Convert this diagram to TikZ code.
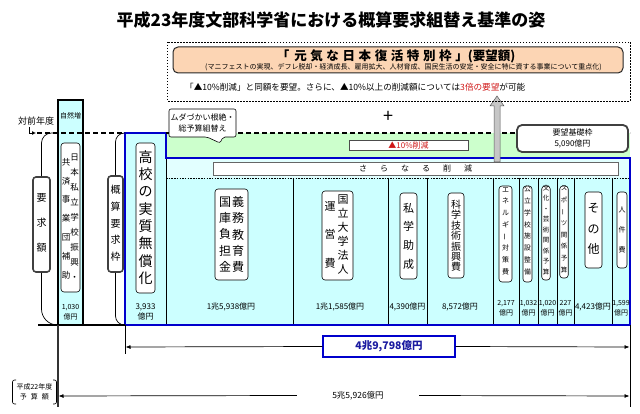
\documentclass[tikz,border=0pt]{standalone}
\usepackage{fontspec}
\setmainfont{Noto Sans CJK JP}
\usepackage{graphicx}
\usetikzlibrary{arrows.meta}
\definecolor{cyanf}{HTML}{CCFFFF}
\definecolor{cyanl}{HTML}{E2FFFF}
\definecolor{greenf}{HTML}{CCFFCC}
\definecolor{peach}{HTML}{FCD5B4}
\definecolor{bl}{HTML}{0000CC}
\definecolor{rd}{HTML}{D01818}
\definecolor{navy}{HTML}{1A1AA0}
\newcommand\fsz[2]{\fontsize{#1}{#2}\selectfont}
\newcommand\vb{\rotatebox[origin=c]{90}{ー}}
\newcommand\gsp{\hspace{3.6pt}}
\newcommand\ssp{\hspace{13pt}}
\begin{document}
\begin{tikzpicture}[x=1pt,y=-1pt,
  rbox/.style={draw=black, fill=white, rounded corners=3pt, line width=0.6pt, inner sep=0pt},
  dbox/.style={draw=black!75, fill=white, rounded corners=3pt, line width=1.6pt, inner sep=0pt},
  vt/.style={align=center, inner sep=0pt},
  val/.style={align=center, inner sep=0pt, font=\fsz{8}{10}},
  sval/.style={align=center, inner sep=0pt, font=\fsz{7}{9.5}},
  dashline/.style={line width=1.2pt, dash pattern=on 5pt off 3pt},
  divline/.style={line width=0.8pt, black},
  arr/.style={-{Latex[length=5pt,width=4pt]}, line width=0.7pt},
  ]
\useasboundingbox (0,0) rectangle (640,414);

% ---------- title
\node[font=\fsz{17}{20}\bfseries, inner sep=0pt] (title) at (331,20) {平成23年度文部科学省における概算要求組替え基準の姿};

% ---------- background fills
\fill[cyanf] (125,133) rectangle (166,325);
\fill[cyanf] (166,178) rectangle (630,325);
\fill[greenf] (166,133) rectangle (630,158);
\fill[cyanl] (166,158) rectangle (630,178);
\draw[line width=0.7pt, dash pattern=on 1.5pt off 1.2pt] (166,178) -- (630,178);
\foreach \xx in {293,388,427,493,519,538,557,574,612}
  \draw[divline] (\xx,178) -- (\xx,325);
\draw[divline] (166,158) -- (166,325);
\draw[bl, line width=1.3pt] (125,325) -- (125,133) -- (166,133) -- (166,158) -- (630,158) -- (630,325) -- cycle;

% ---------- natural increase column
\draw[fill=cyanf, line width=1.4pt] (58,100) rectangle (83,325);
\node[font=\fsz{7}{8}, inner sep=0pt] (shizen) at (70.5,116) {自然増};

% ---------- dashed previous-year line
\node[font=\fsz{9}{10}, inner sep=0pt] (zenn) at (36,121) {対前年度};
\coordinate (zc1) at (29,127);
\coordinate (zc2) at (29,133);
\coordinate (zc3) at (36,133);
\draw[line width=0.9pt, -{Latex[length=4pt,width=4pt]}] (zc1) -- (zc2) -- (zc3);
\draw[dashline] (37,133) -- (125,133);
\draw[dashline] (166,133) -- (630,133);
\draw[line width=1.5pt] (38,325) -- (125,325);

% ---------- brackets (要求額 / 概算要求枠)
\node[dbox, minimum width=17pt, minimum height=95pt] (byokyu) at (41.5,224.5) {};
\node[vt, font=\fsz{10}{25}] (tyokyu) at (41.5,223) {要\\求\\額};
\draw[line width=0.7pt, rounded corners=10pt] (byokyu.north) -- (41.5,133) -- (58,133);
\draw[line width=0.7pt, rounded corners=16pt] (byokyu.south) -- (41.5,325) -- (58,325);
\node[dbox, minimum width=15pt, minimum height=96pt] (bgaisan) at (115.5,224) {};
\node[vt, font=\fsz{10}{16.7}] (tgaisan) at (115.5,223.5) {概\\算\\要\\求\\枠};
\draw[line width=0.7pt, rounded corners=9pt] (bgaisan.north) -- (115.5,133) -- (125,133);
\draw[line width=0.7pt, rounded corners=9pt] (bgaisan.south) -- (115.5,325) -- (125,325);

% ---------- column boxes and texts
\node[rbox, minimum width=19pt, minimum height=149pt] (bshizen) at (70.5,217.5) {};
\node[vt, font=\fsz{8.5}{15}] (tshizen1) at (74.5,217) {日\\本\\私\\立\\学\\校\\振\\興\\・};
\node[vt, font=\fsz{8.5}{18.8}] (tshizen2) at (66,218.5) {共\\済\\事\\業\\団\\補\\助};
\node[sval] (vshizen) at (70.5,312) {1,030\\億円};

\node[rbox, minimum width=19pt, minimum height=150pt] (bkoko) at (145.5,218) {};
\node[vt, font=\fsz{14}{17.3}] (tkoko) at (145.5,217.5) {高\\校\\の\\実\\質\\無\\償\\化};
\node[val] (vkoko) at (145.5,312) {3,933\\億円};

\node[rbox, minimum width=33pt, minimum height=91pt] (bgimu) at (231.5,234.5) {};
\node[vt, font=\fsz{12}{16.3}] (tgimu1) at (238,234.5) {義\\務\\教\\育\\費};
\node[vt, font=\fsz{12}{16.3}] (tgimu2) at (225,234.5) {国\\庫\\負\\担\\金};
\node[val] (vgimu) at (231,307) {1兆5,938億円};

\node[rbox, minimum width=31pt, minimum height=89pt] (bkokuritsu) at (337.5,235.5) {};
\node[vt, font=\fsz{11}{14}] (tkok1) at (343,235) {国\\立\\大\\学\\法\\人};
\node[vt, font=\fsz{11}{28.5}] (tkok2) at (330,234.5) {運\\営\\費};
\node[val] (vkok) at (340,307) {1兆1,585億円};

\node[rbox, minimum width=17pt, minimum height=86pt] (bshigaku) at (408.5,236) {};
\node[vt, font=\fsz{11}{18.7}] (tshigaku) at (408.5,236) {私\\学\\助\\成};
\node[val] (vshigaku) at (407.5,307) {4,390億円};

\node[rbox, minimum width=16pt, minimum height=85pt] (bkagaku) at (456,235.5) {};
\node[vt, font=\fsz{10}{10.4}] (tkagaku) at (456,236) {科\\学\\技\\術\\振\\興\\費};
\node[val] (vkagaku) at (460,307) {8,572億円};

\node[rbox, minimum width=13pt, minimum height=96pt] (bene) at (505.5,234) {};
\node[vt, font=\fsz{7}{11.7}] (tene) at (505.5,231) {エ\\ネ\\ル\\ギ\\\vb\\対\\策\\費};
\node[sval] (vene) at (506,308) {2,177\\億円};

\node[rbox, minimum width=9pt, minimum height=96pt] (bkoritsu) at (527.5,234) {};
\node[vt, font=\fsz{6.8}{11.8}] (tkoritsu) at (527.5,230.5) {公\\立\\学\\校\\施\\設\\整\\備};
\node[sval] (vkoritsu) at (528.5,308) {1,032\\億円};

\node[rbox, minimum width=8.5pt, minimum height=94pt] (bbunka) at (546,233) {};
\node[vt, font=\fsz{6.5}{10.5}] (tbunka) at (546,230) {文\\化\\・\\芸\\術\\関\\係\\予\\算};
\node[sval] (vbunka) at (547.5,308) {1,020\\億円};

\node[rbox, minimum width=8.5pt, minimum height=92pt] (bsports) at (564,232) {};
\node[vt, font=\fsz{6.5}{11.6}] (tsports) at (564,229.5) {ス\\ポ\\\vb\\ツ\\関\\係\\予\\算};
\node[sval] (vsports) at (565.5,308) {227\\億円};

\node[rbox, minimum width=17pt, minimum height=76pt] (bsonota) at (593.5,230) {};
\node[vt, font=\fsz{12}{20.5}] (tsonota) at (593.5,229) {そ\\の\\他};
\node[val] (vsonota) at (593,307) {4,423億円};

\node[rbox, minimum width=10pt, minimum height=76pt] (bjinken) at (622,230) {};
\node[vt, font=\fsz{7}{20}] (tjinken) at (622,230) {人\\件\\費};
\node[sval] (vjinken) at (621,308) {1,599\\億円};

% ---------- band items
\draw[fill=white, line width=0.6pt, rounded corners=2pt] (169,109) -- (236,109) -- (236,137) -- (223,137) -- (220,143) -- (207,137) -- (169,137) -- cycle;
\node[align=center, font=\fsz{8}{11}, inner sep=0pt] (muda) at (202.5,122.5) {ムダづかい根絶・\\総予算組替え};

\node[draw=black!70, fill=white, line width=0.6pt, minimum width=119pt, minimum height=10pt, inner sep=0pt, text=rd, font=\fsz{8}{9}] (cut10) at (408.5,145) {▲10\%削減};

\node[draw=black!60, fill=white, line width=0.6pt, minimum width=405pt, minimum height=13pt, inner sep=0pt, font=\fsz{8}{9}] (sarani) at (415.5,168.5) {さ\ssp ら\ssp な\ssp る\ssp 削\ssp 減};

\node[dbox, rounded corners=5pt, line width=1.8pt, minimum width=111pt, minimum height=27pt, align=center, font=\fsz{8}{11}] (kiso) at (572.5,138.5) {要望基礎枠\\5,090億円};

% gray arrow
\draw[fill=gray!45, draw=black!65, line width=0.5pt] (494,162) -- (494,106) -- (490,106) -- (497,96) -- (504,106) -- (500,106) -- (500,162) -- cycle;

% ---------- top dotted box
\draw[line width=0.7pt, dash pattern=on 1.5pt off 1.5pt] (167,42) rectangle (630,101);
\node[draw=black!85, fill=peach, rounded corners=5pt, line width=1pt, minimum width=450pt, minimum height=26pt, inner sep=0pt] (orange) at (398,60) {};
\node[font=\fsz{12.5}{14}\bfseries, inner sep=0pt] (otitle) at (396,56) {「\hspace{5pt}元\gsp 気\gsp な\gsp 日\gsp 本\gsp 復\gsp 活\gsp 特\gsp 別\gsp 枠\gsp 」(要望額)};
\node[font=\fsz{7}{8}, inner sep=0pt] (osub) at (403.5,67.5) {(マニフェストの実現、デフレ脱却・経済成長、雇用拡大、人材育成、国民生活の安定・安全に特に資する事業について重点化)};
\node[font=\fsz{8.6}{10}, anchor=west, inner sep=0pt] (oline) at (185,87.5) {「▲10\%削減」と同額を要望。さらに、▲10\%以上の削減額については\textcolor{rd}{3倍の要望}が可能};
\node[font=\fsz{18}{18}, inner sep=0pt] (plus) at (388,117) {+};

% ---------- bottom totals
\draw[line width=1.2pt, black!80] (58,325) -- (58,407);
\draw[line width=1pt] (125,325) -- (125,354);
\draw[line width=1pt] (630,325) -- (630,407);

\coordinate (l49) at (125.5,347);
\coordinate (r49) at (629.5,347);
\node[draw=bl, fill=white, line width=1.2pt, minimum width=132pt, minimum height=21pt, inner sep=0pt, text=navy, font=\fsz{10.5}{12}\bfseries] (t49) at (389,346.5) {4兆9,798億円};
\draw[arr] (t49.west) -- (l49);
\draw[arr] (t49.east) -- (r49);

\coordinate (l55) at (58.5,396);
\coordinate (r55) at (629.5,396);
\node[minimum width=122pt, minimum height=10pt, inner sep=0pt, font=\fsz{8.5}{10}] (t55) at (358,395.5) {5兆5,926億円};
\draw[arr] (t55.west) -- (l55);
\draw[arr] (t55.east) -- (r55);

\node[align=center, font=\fsz{7}{9.5}, inner sep=0pt] (h22) at (34.5,392) {平成22年度\\予\hspace{4pt}算\hspace{4pt}額};
\draw[line width=0.6pt, rounded corners=2pt] (16,380) -- (12.5,380) -- (12.5,404) -- (16,404);
\draw[line width=0.6pt, rounded corners=2pt] (53,380) -- (56.5,380) -- (56.5,404) -- (53,404);
\end{tikzpicture}
\end{document}
